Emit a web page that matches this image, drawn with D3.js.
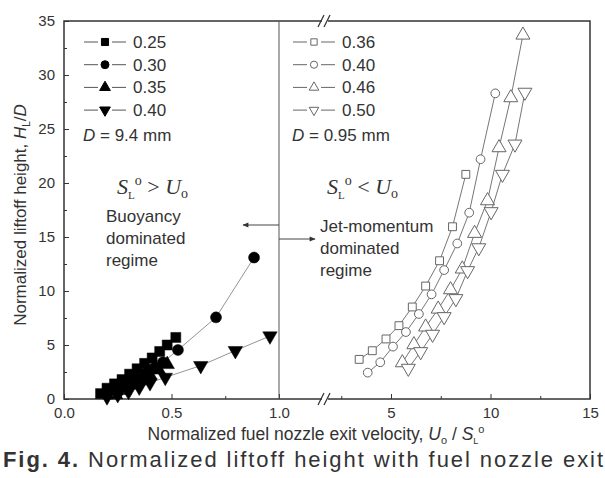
<!DOCTYPE html>
<html>
  <head>
    <style>
      body { margin: 0; background: #fff; }
      text { font-family: "Liberation Sans", Arial, sans-serif; fill: #333; }
      .serif { font-family: "Liberation Serif", "Times New Roman", serif; }
    </style>
  </head>
  <body>
    <svg id="chart" width="605" height="478"></svg>
    <script src="https://cdn.jsdelivr.net/npm/d3@7"></script>
    <script>
      // D = 9.4 mm series (filled markers), x on the 0..1 segment
      const leftLabels = ["0.25", "0.30", "0.35", "0.40"];
      const leftX = [
        [0.17, 0.2, 0.235, 0.27, 0.305, 0.34, 0.375, 0.41, 0.445, 0.48, 0.52],
        [0.22, 0.26, 0.3, 0.34, 0.38, 0.42, 0.46, 0.53, 0.707, 0.884],
        [0.24, 0.28, 0.32, 0.36, 0.4, 0.44, 0.48],
        [0.2, 0.25, 0.3, 0.35, 0.4, 0.471, 0.636, 0.797, 0.958]
      ];
      const leftY = [
        [0.5, 1.0, 1.4, 1.8, 2.3, 2.8, 3.3, 3.8, 4.4, 5.0, 5.7],
        [0.5, 0.9, 1.4, 1.9, 2.4, 2.9, 3.4, 4.54, 7.56, 13.1],
        [0.4, 0.8, 1.3, 1.7, 2.2, 2.7, 3.2],
        [0.2, 0.4, 0.7, 1.1, 1.5, 2.0, 3.09, 4.48, 5.83]
      ];

      // D = 0.95 mm series (open markers), x on the 2.5..15 segment
      const rightLabels = ["0.36", "0.40", "0.46", "0.50"];
      const rightX = [
        [3.4, 4.06, 4.75, 5.4, 6.07, 6.74, 7.44, 8.09, 8.76],
        [3.83, 4.46, 5.1, 5.75, 6.4, 7.04, 7.67, 8.33, 8.93, 9.5, 10.24],
        [5.57, 6.15, 6.74, 7.37, 7.99, 8.58, 9.2, 9.85, 10.43, 11.02, 11.63],
        [5.87, 6.49, 7.09, 7.67, 8.26, 8.85, 9.41, 10.03, 10.6, 11.23, 11.73]
      ];
      const rightY = [
        [3.67, 4.47, 5.56, 6.79, 8.52, 10.46, 12.8, 15.95, 20.8],
        [2.44, 3.4, 4.85, 6.2, 7.87, 9.69, 11.94, 14.4, 17.25, 22.2, 28.3],
        [3.36, 5.03, 6.67, 8.33, 10.12, 12.04, 15.34, 18.36, 23.27, 27.9, 33.7],
        [2.84, 4.38, 5.99, 7.62, 9.29, 11.88, 14.0, 17.34, 20.8, 23.6, 28.4]
      ];

      const yTicks = [0, 5, 10, 15, 20, 25, 30, 35];
      const leftTicks = [0, 0.5, 1.0];
      const rightTicks = [5, 10, 15];

      const svg = d3.select("#chart");
      const L = 64, R = 590, T = 21, B = 399, split = 279;

      const y = d3.scaleLinear().domain([0, 35]).range([B, T]);
      const xL = d3.scaleLinear().domain([0, 1]).range([L, split]);
      const xR = d3.scaleLinear().domain([5, 15]).range([391, R]);

      const shapes = [d3.symbolSquare, d3.symbolCircle, d3.symbolTriangle, d3.symbolTriangle];
      const sizesFilled = [100, 95, 90, 90];
      const sizesOpen = [62, 60, 85, 85];

      function styleAxis(g, labels) {
        g.select(".domain").remove();
        g.selectAll("line").attr("stroke", "#333");
        if (labels) {
          g.selectAll("text").attr("font-size", 15).attr("fill", "#333")
            .attr("font-family", "Liberation Sans, Arial, sans-serif");
        }
      }

      // y axis
      svg.append("g").attr("transform", `translate(${L},0)`)
        .call(d3.axisLeft(y).tickValues(yTicks).tickSize(-5).tickPadding(9).tickFormat(d3.format("d")))
        .call(g => styleAxis(g, true));
      svg.append("g").attr("transform", `translate(${L},0)`)
        .call(d3.axisLeft(y).tickValues(d3.range(2.5, 35, 5)).tickSize(-3).tickFormat(""))
        .call(g => styleAxis(g, false));

      // x axis, left segment
      svg.append("g").attr("transform", `translate(0,${B})`)
        .call(d3.axisBottom(xL).tickValues(leftTicks).tickSize(-5).tickPadding(8).tickFormat(d3.format(".1f")))
        .call(g => styleAxis(g, true));
      svg.append("g").attr("transform", `translate(0,${B})`)
        .call(d3.axisBottom(xL).tickValues([0.25, 0.75]).tickSize(-3).tickFormat(""))
        .call(g => styleAxis(g, false));

      // x axis, right segment
      svg.append("g").attr("transform", `translate(0,${B})`)
        .call(d3.axisBottom(xR).tickValues(rightTicks).tickSize(-5).tickPadding(8).tickFormat(d3.format("d")))
        .call(g => styleAxis(g, true));
      svg.append("g").attr("transform", `translate(0,${B})`)
        .call(d3.axisBottom(xR).tickValues([2.5, 7.5, 12.5]).tickSize(-3).tickFormat(""))
        .call(g => styleAxis(g, false));

      // frame
      svg.append("rect").attr("x", L).attr("y", T).attr("width", R - L).attr("height", B - T)
        .attr("fill", "none").attr("stroke", "#333").attr("stroke-width", 1.5);
      svg.append("line").attr("x1", split).attr("x2", split).attr("y1", T).attr("y2", B)
        .attr("stroke", "#555").attr("stroke-width", 1);

      // axis break marks
      [T, B].forEach(yy => {
        svg.append("rect").attr("x", 322).attr("y", yy - 2).attr("width", 6).attr("height", 4).attr("fill", "#fff");
        [318, 324].forEach(x0 => {
          svg.append("line").attr("x1", x0).attr("y1", yy + 6).attr("x2", x0 + 6).attr("y2", yy - 6)
            .attr("stroke", "#333").attr("stroke-width", 1.2);
        });
      });

      // regime arrows
      svg.append("defs").append("marker").attr("id", "ah").attr("viewBox", "0 0 10 10")
        .attr("refX", 9).attr("refY", 5).attr("markerWidth", 8).attr("markerHeight", 6)
        .attr("orient", "auto-start-reverse")
        .append("path").attr("d", "M0,1 L10,5 L0,9 Z").attr("fill", "#333");
      svg.append("line").attr("x1", split).attr("x2", 243).attr("y1", 225).attr("y2", 225)
        .attr("stroke", "#444").attr("marker-end", "url(#ah)");
      svg.append("line").attr("x1", split).attr("x2", 315).attr("y1", 239).attr("y2", 239)
        .attr("stroke", "#444").attr("marker-end", "url(#ah)");

      function drawSeries(xs, ys, xScale, i, filled) {
        const pts = xs.map((v, k) => [xScale(v), y(ys[k])]);
        svg.append("path").attr("d", d3.line()(pts)).attr("fill", "none")
          .attr("stroke", filled ? "#888" : "#666").attr("stroke-width", 0.9);
        svg.append("g").selectAll("path").data(pts).join("path")
          .attr("transform", d => `translate(${d[0]},${d[1]})${i === 3 ? " rotate(180)" : ""}`)
          .attr("d", d3.symbol(shapes[i], filled ? sizesFilled[i] : sizesOpen[i]))
          .attr("fill", filled ? "#000" : "#fff")
          .attr("stroke", filled ? "#000" : "#666").attr("stroke-width", filled ? 0.5 : 1);
      }
      leftX.forEach((xs, i) => drawSeries(xs, leftY[i], xL, i, true));
      rightX.forEach((xs, i) => drawSeries(xs, rightY[i], xR, i, false));

      // legends
      function legend(labels, x0, filled, note) {
        labels.forEach((lab, i) => {
          const yy = 42 + i * 22.7;
          const g = svg.append("g");
          g.append("line").attr("x1", x0).attr("x2", x0 + 14).attr("y1", yy).attr("y2", yy)
            .attr("stroke", filled ? "#555" : "#666").attr("stroke-width", 1);
          g.append("line").attr("x1", x0 + 28).attr("x2", x0 + 42).attr("y1", yy).attr("y2", yy)
            .attr("stroke", filled ? "#555" : "#666").attr("stroke-width", 1);
          g.append("path")
            .attr("transform", `translate(${x0 + 21},${yy})${i === 3 ? " rotate(180)" : ""}`)
            .attr("d", d3.symbol(shapes[i], filled ? 50 : 40))
            .attr("fill", filled ? "#000" : "#fff").attr("stroke", filled ? "#000" : "#666");
          g.append("text").attr("x", x0 + 49).attr("y", yy + 6).attr("font-size", 17).text(lab);
        });
        const t = svg.append("text").attr("x", x0 - 1).attr("y", 141).attr("font-size", 17);
        t.append("tspan").attr("font-style", "italic").text("D");
        t.append("tspan").text(" = " + note);
      }
      legend(leftLabels, 84, true, "9.4 mm");
      legend(rightLabels, 293, false, "0.95 mm");

      // regime annotations
      function relation(x0, sym) {
        const t = svg.append("text").attr("class", "serif").attr("x", x0).attr("y", 194).attr("font-size", 22);
        t.append("tspan").attr("font-style", "italic").text("S");
        t.append("tspan").attr("font-size", 11).attr("dy", 5).text("L");
        t.append("tspan").attr("font-size", 14).attr("dy", -14).text("o");
        t.append("tspan").attr("dy", 9).text(" " + sym + " ");
        t.append("tspan").attr("font-style", "italic").text("U");
        t.append("tspan").attr("font-size", 14).attr("dy", 4).text("o");
      }
      relation(117, ">");
      relation(327, "<");
      ["Buoyancy", "dominated", "regime"].forEach((s, i) =>
        svg.append("text").attr("x", 106).attr("y", 222 + i * 22).attr("font-size", 17).text(s));
      ["Jet-momentum", "dominated", "regime"].forEach((s, i) =>
        svg.append("text").attr("x", 320).attr("y", 232 + i * 22).attr("font-size", 17).text(s));

      // axis titles
      const xt = svg.append("text").attr("x", 316).attr("y", 440).attr("text-anchor", "middle").attr("font-size", 17.5);
      xt.append("tspan").text("Normalized fuel nozzle exit velocity, ");
      xt.append("tspan").attr("font-style", "italic").text("U");
      xt.append("tspan").attr("font-size", 11).attr("dy", 4).text("o");
      xt.append("tspan").attr("dy", -4).text(" / ");
      xt.append("tspan").attr("font-style", "italic").text("S");
      xt.append("tspan").attr("font-size", 9).attr("dy", 4).text("L");
      xt.append("tspan").attr("font-size", 11).attr("dy", -11).text("o");

      const yt = svg.append("text").attr("transform", "translate(26,215) rotate(-90)")
        .attr("text-anchor", "middle").attr("font-size", 17);
      yt.append("tspan").text("Normalized liftoff height, ");
      yt.append("tspan").attr("font-style", "italic").text("H");
      yt.append("tspan").attr("font-size", 10).attr("dy", 4).text("L");
      yt.append("tspan").attr("dy", -4).text("/");
      yt.append("tspan").attr("font-style", "italic").text("D");

      // caption
      const cap = svg.append("text").attr("x", 3).attr("y", 467).attr("font-size", 22)
        .attr("textLength", 600).attr("lengthAdjust", "spacing").attr("fill", "#111");
      cap.append("tspan").attr("font-weight", "bold").text("Fig. 4.");
      cap.append("tspan").text(" Normalized liftoff height with fuel nozzle exit");
    </script>
  </body>
</html>
